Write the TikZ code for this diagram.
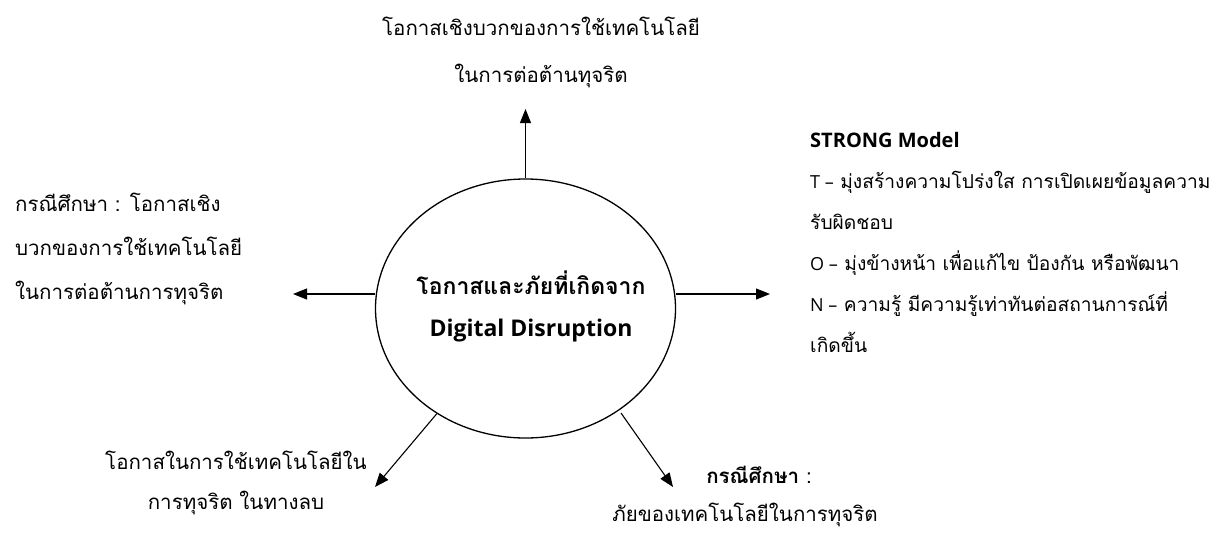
\documentclass[tikz,border=0pt]{standalone}
\usepackage{fontspec}
\setmainfont[Script=Thai]{Loma}
\newfontfamily\lat{Open Sans}
\usetikzlibrary{shapes.geometric,arrows.meta}
\begin{document}
\begin{tikzpicture}[x=1pt,y=-1pt,
  txt/.style={inner sep=0pt,font=\fontsize{20.5pt}{44pt}\selectfont},
  arr/.style={draw,line width=1.1pt,-{Triangle[length=14pt,width=11pt]}},
  hub/.style={ellipse,draw,line width=1.3pt,minimum width=300pt,minimum height=259pt,inner sep=0pt}]
\useasboundingbox (0,0) rectangle (1229,533);
\node[hub] (c) at (525.5,308.5) {};
\node[txt,align=center,font=\bfseries\fontsize{23pt}{42pt}\selectfont] (ct) at (531,306) {โอกาสและภัยที่เกิดจาก\\{\lat\bfseries\fontsize{23pt}{42pt}\selectfont Digital Disruption}};
% text blocks
\node[txt,align=center,font=\fontsize{20.5pt}{47pt}\selectfont] (top) at (541,52) {โอกาสเชิงบวกของการใช้เทคโนโลยี\\ในการต่อต้านทุจริต};
\node[txt,align=left,anchor=west] (lft) at (15,249) {กรณีศึกษา : โอกาสเชิง\\บวกของการใช้เทคโนโลยี\\ในการต่อต้านการทุจริต};
\node[txt,align=left,anchor=west,font=\fontsize{19.2pt}{41pt}\selectfont] (rgt) at (810,242) {{\lat\bfseries\fontsize{20pt}{41pt}\selectfont STRONG Model}\\{\lat\fontsize{18pt}{41pt}\selectfont T –} มุ่งสร้างความโปร่งใส การเปิดเผยข้อมูลความ\\รับผิดชอบ\\{\lat\fontsize{18pt}{41pt}\selectfont O –} มุ่งข้างหน้า เพื่อแก้ไข ป้องกัน หรือพัฒนา\\{\lat\fontsize{18pt}{41pt}\selectfont N –} ความรู้ มีความรู้เท่าทันต่อสถานการณ์ที่\\เกิดขึ้น};
\node[txt,align=center,font=\fontsize{20.5pt}{40pt}\selectfont] (ll) at (236,483) {โอกาสในการใช้เทคโนโลยีใน\\การทุจริต ในทางลบ};
\node[txt,align=center,font=\fontsize{20.5pt}{38pt}\selectfont] (lr) at (745,496) {\hspace*{28pt}\textbf{กรณีศึกษา} :\\ภัยของเทคโนโลยีในการทุจริต};
% connectors
\coordinate (tT) at (525.5,109);
\coordinate (tL) at (293,294);
\coordinate (tR) at (770,294);
\coordinate (tLL) at (375,487);
\coordinate (sLR) at (621,413);
\coordinate (tLR) at (673,487);
\draw[arr] (c.north) -- (tT);
\draw[arr] (c.west |- tL) -- (tL);
\draw[arr] (c.east |- tR) -- (tR);
\draw[arr] (c) -- (tLL);
\draw[arr] (sLR) -- (tLR);
\end{tikzpicture}
\end{document}
